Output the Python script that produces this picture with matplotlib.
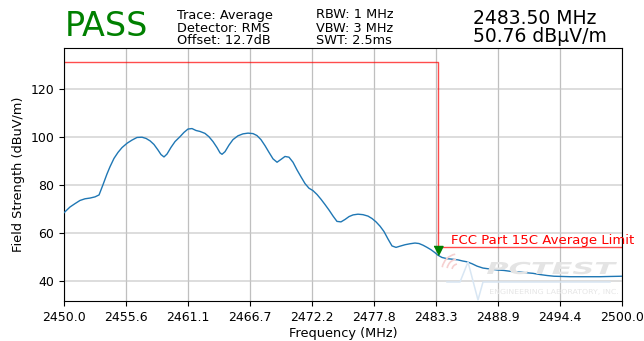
import numpy as np
import matplotlib.pyplot as plt
from matplotlib.textpath import TextPath
from matplotlib.patches import PathPatch, Arc
from matplotlib.font_manager import FontProperties
from matplotlib.transforms import Affine2D

# measured trace (frequency in MHz, field strength in dBuV/m)
freq = [2450.00, 2450.54, 2450.99, 2451.43, 2451.88, 2452.33, 2452.78, 2453.14,
        2453.49, 2453.85, 2454.12, 2454.48, 2454.84, 2455.20, 2455.65, 2456.09,
        2456.54, 2456.99, 2457.35, 2457.71, 2458.06, 2458.42, 2458.69, 2458.96,
        2459.23, 2459.59, 2459.95, 2460.39, 2460.75, 2461.11, 2461.47, 2461.83,
        2462.19, 2462.63, 2462.99, 2463.35, 2463.71, 2463.98, 2464.16, 2464.43,
        2464.78, 2465.14, 2465.59, 2466.04, 2466.49, 2466.94, 2467.29, 2467.65,
        2468.01, 2468.37, 2468.73, 2469.09, 2469.45, 2469.80, 2470.16, 2470.52,
        2470.88, 2471.24, 2471.60, 2471.95, 2472.31, 2472.67, 2473.03, 2473.39,
        2473.75, 2474.11, 2474.46, 2474.82, 2475.18, 2475.54, 2475.90, 2476.34,
        2476.79, 2477.24, 2477.60, 2477.96, 2478.32, 2478.67, 2479.03, 2479.39,
        2479.75, 2480.11, 2480.56, 2481.00, 2481.45, 2481.81, 2482.17, 2482.53,
        2482.89, 2483.24, 2483.50, 2483.87, 2484.32, 2484.77, 2485.30, 2485.75,
        2486.11, 2486.56, 2487.01, 2487.54, 2488.17, 2488.80, 2489.43, 2490.06,
        2490.68, 2491.31, 2492.03, 2492.65, 2493.28, 2493.91, 2494.63, 2495.34,
        2496.24, 2497.13, 2498.03, 2498.92, 2500.00]
level = [68.4, 70.8, 72.2, 73.5, 74.2, 74.5, 75.0, 75.8,
         80.0, 84.5, 87.5, 91.0, 93.5, 95.5, 97.3, 98.6,
         99.7, 99.8, 99.3, 98.3, 96.8, 94.5, 92.6, 91.6,
         92.8, 95.6, 98.0, 100.0, 101.8, 103.2, 103.4, 102.6,
         102.2, 101.4, 100.0, 98.0, 95.5, 93.3, 92.7, 93.8,
         96.5, 98.8, 100.4, 101.2, 101.5, 101.3, 100.5, 98.8,
         96.3, 93.5, 90.8, 89.4, 90.6, 91.8, 91.5, 89.4,
         86.2, 83.3, 80.5, 78.6, 77.6, 76.0, 74.0, 71.8,
         69.5, 67.0, 64.8, 64.6, 65.6, 66.8, 67.5, 67.8,
         67.6, 67.0, 66.0, 64.6, 62.8, 60.6, 57.5, 54.6,
         54.0, 54.5, 55.1, 55.5, 55.8, 55.6, 54.9, 54.0,
         53.0, 51.8, 50.76, 49.8, 49.3, 49.1, 48.8, 48.3,
         48.0, 47.2, 46.2, 45.4, 45.0, 44.6, 44.4, 44.0,
         43.8, 43.5, 43.2, 42.7, 42.3, 42.0, 41.9, 41.8,
         41.8, 41.8, 41.8, 41.9, 42.0]

# limit line: restricted band edge
limit_freq = [2450.0, 2483.5, 2483.5, 2500.0]
limit_level = [131.0, 131.0, 54.0, 54.0]
limit_name = 'FCC Part 15C Average Limit'

marker_freq = 2483.50
marker_level = 50.76

W, H = 644, 341
fig = plt.figure(figsize=(W / 100, H / 100), dpi=100)
ax = fig.add_axes([64 / W, 1 - 301 / H, 558 / W, 253 / H])

ax.plot(freq, level, color='#1f77b4', linewidth=1.0, zorder=3)
ax.plot(limit_freq, limit_level, color='red', linewidth=1.0, alpha=0.7, zorder=2)
# down triangle with its tip sitting on the marker point
tri = [(-1.0, 2.0), (1.0, 2.0), (0.0, 0.0)]
ax.plot([marker_freq], [marker_level], linestyle='none', marker=tri,
        markersize=13, color='green', zorder=4)
ax.text(2484.7, 55.3, limit_name, color='red', fontsize=9.5)

ax.set_xlim(2450, 2500)
ax.set_ylim(31.7, 136.9)
xt = np.linspace(2450, 2500, 10)
ax.set_xticks(xt)
ax.set_xticklabels(['%.1f' % v for v in xt])
ax.set_yticks([40, 60, 80, 100, 120])
ax.tick_params(labelsize=9)
ax.grid(True, axis='x', color='#b0b0b0', linewidth=0.9, alpha=0.8)
ax.grid(True, axis='y', color='#c8c8c8', linewidth=1.1, alpha=0.8)
ax.set_xlabel('Frequency (MHz)', fontsize=9.3, labelpad=2)
ax.set_ylabel('Field Strength (dBuV/m)', fontsize=9.3, labelpad=4)


# faint logo in the lower right corner, laid out in pixels
def stretched_text(s, left, bottom, width, cap, color, weight='normal', style='normal'):
    tp = TextPath((0, 0), s, size=1, prop=FontProperties(weight=weight, style=style))
    ext = tp.get_extents()
    tr = (Affine2D().translate(-ext.x0, 0).scale(width / ext.width / 100, cap / 0.73 / 100)
          .translate(left / 100, (H - bottom) / 100) + fig.dpi_scale_trans)
    fig.patches.append(PathPatch(tp, transform=tr, facecolor=color, edgecolor='none', zorder=1))


stretched_text('PCTEST', 487, 274, 130, 12, '#e4e4e4', weight='bold', style='italic')
stretched_text('ENGINEERING LABORATORY, INC.', 490, 294, 128, 5, '#e6e6e6')
to_in = Affine2D().scale(1 / 100) + fig.dpi_scale_trans
wave_x = np.array([447, 460, 468, 478, 483, 610])
wave_y = H - np.array([282, 282, 262, 300, 282, 282])
fig.lines.append(plt.Line2D(wave_x, wave_y, transform=to_in, color='#d8e6f3', linewidth=1.1))
for r in (6, 11, 16):
    fig.patches.append(Arc((458, H - 270), 2 * r, 2 * r, theta1=100, theta2=170,
                           transform=to_in, color='#f6d0d0', linewidth=1.2))

# header block
fig.text(65 / W, 1 - 27 / H, 'PASS', color='green', fontsize=24, va='center')
fig.text(177 / W, 1 - 15 / H, 'Trace: Average', fontsize=9.3, va='center')
fig.text(177 / W, 1 - 28 / H, 'Detector: RMS', fontsize=9.3, va='center')
fig.text(177 / W, 1 - 41 / H, 'Offset: 12.7dB', fontsize=9.3, va='center')
fig.text(316 / W, 1 - 15 / H, 'RBW: 1 MHz', fontsize=9.3, va='center')
fig.text(316 / W, 1 - 28 / H, 'VBW: 3 MHz', fontsize=9.3, va='center')
fig.text(316 / W, 1 - 41 / H, 'SWT: 2.5ms', fontsize=9.3, va='center')
fig.text(473 / W, 1 - 18 / H, '%.2f MHz' % marker_freq, fontsize=13.5, va='center')
fig.text(473 / W, 1 - 37 / H, '%.2f dBμV/m' % marker_level, fontsize=13.5, va='center')

fig.savefig('out.png', dpi=100)
